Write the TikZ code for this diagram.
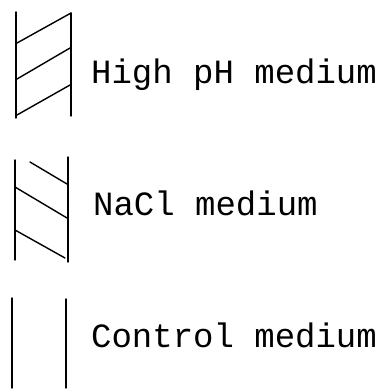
\documentclass[tikz,border=0pt]{standalone}
\usepackage{fontspec}
\setmonofont{Liberation Mono}
\begin{document}
\begin{tikzpicture}[x=1pt,y=-1pt,
  ln/.style={line width=1.4pt,line cap=round},
  lbl/.style={anchor=base west,inner sep=0pt,font=\ttfamily\fontsize{34}{34}\selectfont}]
\useasboundingbox (0,0) rectangle (386,392);
% High pH
\draw[ln] (16,12) -- (16,118);
\draw[ln] (71,13) -- (71,116);
\draw[ln] (17,43) -- (71,13);
\draw[ln] (17,79) -- (70,48);
\draw[ln] (17,115) -- (70,85);
\node[lbl] (t1) at (91,83) {High pH medium};
% NaCl
\draw[ln] (15,160) -- (15,260);
\draw[ln] (68,157) -- (68,262);
\draw[ln] (30,162) -- (67,184);
\draw[ln] (15,187) -- (67,218);
\draw[ln] (15,230) -- (65,258);
\node[lbl] (t2) at (93,215) {NaCl medium};
% Control
\draw[ln] (12,298) -- (12,388);
\draw[ln] (66,299) -- (66,388);
\node[lbl] (t3) at (91,347) {Control medium};
\end{tikzpicture}
\end{document}
